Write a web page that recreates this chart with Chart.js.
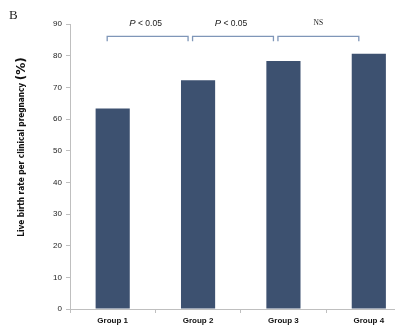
<!DOCTYPE html>
<html>
<head>
<meta charset="utf-8">
<script src="https://cdn.jsdelivr.net/npm/chart.js@4"></script>
<style>
  html, body { margin: 0; padding: 0; background: #fff; overflow: hidden; }
  #wrap { width: 420px; height: 329px; }
</style>
</head>
<body>
<div id="wrap"><canvas id="c" width="420" height="329"></canvas></div>
<script>
  // data
  const groups = ["Group 1", "Group 2", "Group 3", "Group 4"];
  const liveBirthRate = [63.3, 72.2, 78.3, 80.6];
  const yTicks = [0, 10, 20, 30, 40, 50, 60, 70, 80, 90];
  // significance brackets: [from group index, to group index, label]
  const bracketFrom = [0, 1, 2];
  const bracketTo = [1, 2, 3];
  const bracketText = ["P < 0.05", "P < 0.05", "NS"];

  const BAR = "#3d5170";
  const AXIS = "#bfbfbf";
  const BRACKET = "#7f96b8";

  /* brackets, panel letter and the y title (mixed font sizes) */
  const annotations = {
    id: "annotations",
    afterDraw(chart) {
      const { ctx, scales: { x, y } } = chart;
      ctx.save();
      const top = y.getPixelForValue(86.1);
      ctx.strokeStyle = BRACKET;
      ctx.lineWidth = 1.3;
      bracketFrom.forEach((a, i) => {
        const x0 = x.getPixelForValue(a) - 5.5;
        const x1 = x.getPixelForValue(bracketTo[i]) - 10;
        ctx.beginPath();
        ctx.moveTo(x0, top + 5);
        ctx.lineTo(x0, top);
        ctx.lineTo(x1, top);
        ctx.lineTo(x1, top + 5);
        ctx.stroke();

        const cx = (x0 + x1) / 2 - (bracketText[i] === "NS" ? 0 : 2);
        const ty = top - 13;
        ctx.fillStyle = "#222";
        ctx.textBaseline = "middle";
        const txt = bracketText[i];
        if (txt.startsWith("P")) {
          ctx.font = "italic 9.5px 'Liberation Sans'";
          const pw = ctx.measureText("P").width;
          ctx.font = "8.5px 'Liberation Sans'";
          const rest = txt.slice(1);
          const rw = ctx.measureText(rest).width;
          const sx = cx - (pw + rw) / 2;
          ctx.textAlign = "left";
          ctx.font = "italic 9.5px 'Liberation Sans'";
          ctx.fillText("P", sx, ty);
          ctx.font = "8.5px 'Liberation Sans'";
          ctx.fillText(rest, sx + pw, ty);
        } else {
          ctx.textAlign = "center";
          ctx.font = "7.5px 'Liberation Serif'";
          ctx.fillText(txt, cx, ty);
        }
      });

      // panel letter
      ctx.fillStyle = "#222";
      ctx.font = "13px 'Liberation Serif'";
      ctx.textAlign = "left";
      ctx.textBaseline = "middle";
      ctx.fillText("B", 9, 16);

      // rotated y title
      ctx.translate(22, 147);
      ctx.rotate(-Math.PI / 2);
      const t1 = "Live birth rate per clinical pregnancy ";
      const t2 = "(%)";
      ctx.font = "bold 8.2px 'DejaVu Sans Condensed', 'DejaVu Sans'";
      const w1 = ctx.measureText(t1).width;
      ctx.font = "bold 12px 'DejaVu Sans'";
      const w2 = ctx.measureText(t2).width;
      const sx = -(w1 + w2) / 2;
      ctx.fillStyle = "#111";
      ctx.font = "bold 8.2px 'DejaVu Sans Condensed', 'DejaVu Sans'";
      ctx.fillText(t1, sx, 0);
      ctx.font = "bold 12px 'DejaVu Sans'";
      ctx.fillText(t2, sx + w1, -0.5);
      ctx.restore();
    }
  };

  new Chart(document.getElementById("c"), {
    type: "bar",
    data: {
      labels: groups,
      datasets: [{
        data: liveBirthRate,
        backgroundColor: BAR,
        borderWidth: 0,
        barPercentage: 0.4,
        categoryPercentage: 1
      }]
    },
    options: {
      responsive: false,
      animation: false,
      devicePixelRatio: 1,
      layout: { padding: { top: 24, right: 8.5, left: 0, bottom: 0 } },
      plugins: { legend: { display: false }, tooltip: { enabled: false } },
      scales: {
        x: {
          grid: { offset: true, drawOnChartArea: false, drawTicks: true, tickLength: 4, color: AXIS },
          border: { color: AXIS },
          ticks: { color: "#111", font: { family: "Liberation Sans", weight: "bold", size: 8 }, padding: 3 },
          afterFit(s) { s.height = 20; }
        },
        y: {
          min: 0,
          max: 90,
          afterBuildTicks(s) { s.ticks = yTicks.map((v) => ({ value: v })); },
          grid: { drawOnChartArea: false, drawTicks: true, tickLength: 4, color: AXIS },
          border: { color: AXIS },
          ticks: { color: "#222", font: { family: "Liberation Sans", size: 8 }, padding: 4 },
          afterFit(s) { s.width = 70; }
        }
      }
    },
    plugins: [annotations]
  });
</script>
</body>
</html>
